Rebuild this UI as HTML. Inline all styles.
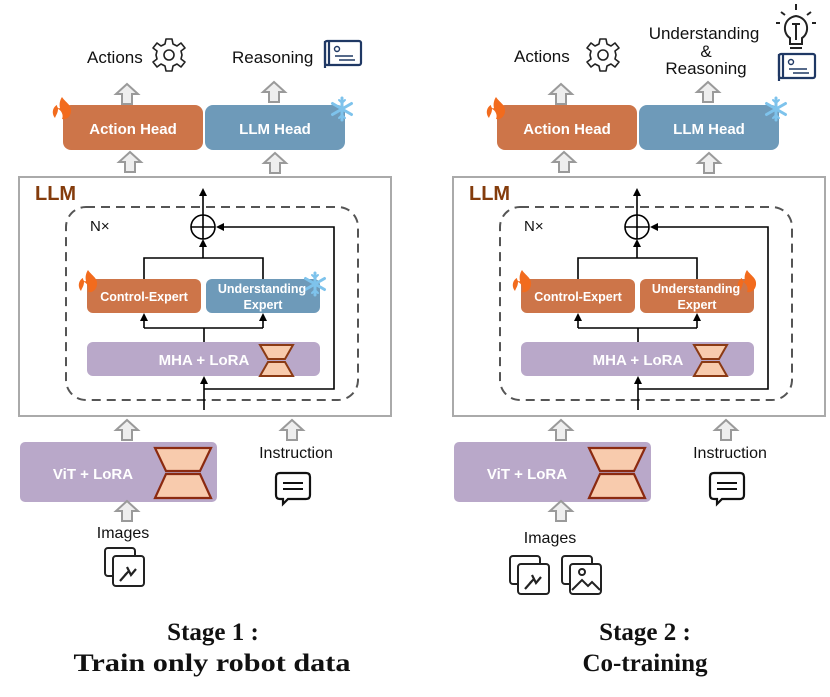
<!DOCTYPE html>
<html><head><meta charset="utf-8"><style>
html,body{margin:0;padding:0;background:#fff;}
svg{display:block;}
.s{font-family:"Liberation Sans",sans-serif;}
.w{font-family:"Liberation Sans",sans-serif;fill:#fff;font-weight:bold;}
.t{font-family:"Liberation Serif",serif;font-weight:bold;fill:#111;}
</style></head><body>
<svg width="830" height="697" viewBox="0 0 830 697" xmlns="http://www.w3.org/2000/svg">
<defs>
<path id="ba" d="M0,0 L11,10 L5,10 L5,20 L-5,20 L-5,10 L-11,10 Z" fill="#eeeeee" stroke="#9a9a9a" stroke-width="2" stroke-linejoin="miter"/>
<path id="fl" d="M8,0 C12,6 18,8 17,15 C16,21 11,23 8,22 C10,18 7,13 4,12 C4,16 2,18 1,21 C-3,16 -1,10 3,8 C3,11 5,12 6,11 C5,7 6,3 8,0 Z" fill="#f26b1d"/>
<g id="sf" stroke="#7ec3ec" stroke-width="3" stroke-linecap="round" fill="none">
<path d="M0,-11 V11 M-9.5,-5.5 L9.5,5.5 M-9.5,5.5 L9.5,-5.5"/>
<path d="M-3,-9 L0,-6 L3,-9 M-3,9 L0,6 L3,9" stroke-width="2"/>
</g>
<g id="gear" fill="none" stroke="#222" stroke-width="1.6">
<path d="M-3,-16 L3,-16 L4,-11 L8,-9 L12,-12 L16,-7 L12,-4 L13,0 L12,4 L16,7 L12,12 L8,9 L4,11 L3,16 L-3,16 L-4,11 L-8,9 L-12,12 L-16,7 L-12,4 L-13,0 L-12,-4 L-16,-7 L-12,-12 L-8,-9 L-4,-11 Z" stroke-linejoin="round"/>
<circle r="5"/>
</g>
<g id="map" fill="none" stroke="#1f3864" stroke-width="2.2">
<rect x="0" y="3" width="36" height="24" rx="2" fill="#fff"/>
<path d="M0,3 V30 M4,3 V28"/>
<circle cx="12" cy="11" r="2.5" stroke-width="1.4"/>
<path d="M10,18 H28 M14,22 H30" stroke-width="1.4"/>
</g>
<g id="img1" fill="#fff" stroke="#222" stroke-width="2">
<rect x="0" y="0" width="30" height="28" rx="3"/>
<rect x="8" y="8" width="31" height="30" rx="3"/>
<path d="M15,33 L22,25 M20,27 L24,23 L26,27 L31,21 M22,19 L24,23" fill="none" stroke-width="2.2"/>
</g>
<g id="img2" fill="#fff" stroke="#222" stroke-width="2">
<rect x="0" y="0" width="30" height="28" rx="3"/>
<rect x="8" y="8" width="31" height="30" rx="3"/>
<circle cx="20" cy="16" r="3" fill="none"/>
<path d="M10,34 L20,24 L26,30 L30,26 L38,34" fill="none"/>
</g>
<g id="chat" fill="#fff" stroke="#111" stroke-width="2.2">
<path d="M5,0 H31 Q35,0 35,4 V22 Q35,26 31,26 H13 L8,31 L8,26 H5 Q1,26 1,22 V4 Q1,0 5,0 Z"/>
<path d="M8,10 H28 M8,16 H28" stroke-width="2"/>
</g>
<g id="hgS" fill="#f8cbad" stroke="#8b3a14" stroke-width="2">
<path d="M0,0 H33 L25,14 H8 Z"/><path d="M8,17 H25 L33,31 H0 Z"/>
</g>
<g id="hgL" fill="#f8cbad" stroke="#8b2a10" stroke-width="2.2">
<path d="M0,0 H56 L45,23 H11 Z"/><path d="M11,26 H45 L56,50 H0 Z"/>
</g>
<marker id="ah" markerWidth="8" markerHeight="8" refX="4" refY="4" orient="auto" markerUnits="userSpaceOnUse">
<path d="M0,0 L8,4 L0,8 Z" fill="#000"/>
</marker>
<g id="core">
<rect x="19" y="177" width="372" height="239" fill="#fff" stroke="#aaa" stroke-width="2"/>
<rect x="66" y="207" width="292" height="193" rx="20" fill="none" stroke="#555" stroke-width="2" stroke-dasharray="9,6"/>
<g stroke="#000" stroke-width="1.6" fill="none">
<line x1="203" y1="239" x2="203" y2="192" marker-end="url(#ah)"/>
<circle cx="203" cy="227" r="12"/>
<line x1="191" y1="227" x2="215" y2="227"/>
<line x1="203" y1="258" x2="203" y2="243" marker-end="url(#ah)"/>
<path d="M144,279 V258 H263 V279"/>
<path d="M144,328 H263"/>
<line x1="144" y1="328" x2="144" y2="317" marker-end="url(#ah)"/>
<line x1="263" y1="328" x2="263" y2="317" marker-end="url(#ah)"/>
<line x1="204" y1="342" x2="204" y2="328"/>
<line x1="204" y1="410" x2="204" y2="380" marker-end="url(#ah)"/>
<path d="M204,389 H334 V227 H220" marker-end="url(#ah)"/>
</g>
<rect x="87" y="342" width="233" height="34" rx="6" fill="#b9a8c9"/>
<use href="#hgS" x="260" y="345"/>
<rect x="20" y="442" width="197" height="60" rx="5" fill="#b9a8c9"/>
<use href="#hgL" x="155" y="448"/>
<use href="#ba" x="127" y="420"/>
<use href="#ba" x="127" y="501"/>
<use href="#ba" x="292" y="420"/>
<use href="#chat" x="275" y="473"/>
<use href="#ba" x="127" y="84"/>
<use href="#ba" x="130" y="152"/>
<use href="#ba" x="274" y="82"/>
<use href="#ba" x="275" y="153"/>
<rect x="63" y="105" width="140" height="45" rx="8" fill="#cd7549"/>
<rect x="205" y="105" width="140" height="45" rx="8" fill="#6e9ab9"/>
<use href="#fl" x="54" y="97"/>
<use href="#sf" x="342" y="109"/>
<use href="#gear" x="169" y="55"/>
</g>
</defs>

<use href="#core"/>
<rect x="87" y="279" width="114" height="34" rx="6" fill="#cd7549"/>
<rect x="206" y="279" width="114" height="34" rx="6" fill="#6e9ab9"/>
<use href="#fl" x="80" y="270"/>
<use href="#sf" x="315" y="284"/>
<use href="#map" x="325" y="38"/>
<use href="#img1" x="105" y="548"/>
<text class="s" x="87" y="63" font-size="17" fill="#111">Actions</text>
<text class="s" x="232" y="63" font-size="17" fill="#111">Reasoning</text>
<text class="w" x="133" y="134" font-size="15" text-anchor="middle">Action  Head</text>
<text class="w" x="275" y="134" font-size="15" text-anchor="middle">LLM Head</text>
<text x="35" y="200" font-family="Liberation Sans,sans-serif" font-weight="bold" font-size="20" fill="#843c0c">LLM</text>
<text class="s" x="90" y="231" font-size="15" fill="#111">N×</text>
<text class="w" x="144" y="301" font-size="12.5" text-anchor="middle">Control-Expert</text>
<text class="w" x="262" y="293" font-size="12.5" text-anchor="middle">Understanding</text>
<text class="w" x="263" y="309" font-size="12.5" text-anchor="middle">Expert</text>
<text class="w" x="204" y="365" font-size="15" text-anchor="middle">MHA + LoRA</text>
<text class="w" x="93" y="479" font-size="15" text-anchor="middle">ViT  +  LoRA</text>
<text class="s" x="296" y="458" font-size="16" fill="#111" text-anchor="middle">Instruction</text>
<text class="s" x="123" y="538" font-size="16" fill="#111" text-anchor="middle">Images</text>
<text class="t" x="213" y="640" font-size="25" text-anchor="middle">Stage 1 :</text>
<text class="t" x="212" y="671" font-size="25" text-anchor="middle" textLength="277" lengthAdjust="spacingAndGlyphs">Train only robot data</text>

<g transform="translate(434,0)">
<use href="#core"/>
<rect x="87" y="279" width="114" height="34" rx="6" fill="#cd7549"/>
<rect x="206" y="279" width="114" height="34" rx="6" fill="#cd7549"/>
<use href="#fl" x="80" y="270"/>
<use href="#fl" x="305" y="270"/>
<use href="#map" x="345" y="51"/>
<g fill="none" stroke="#222" stroke-width="2">
<path d="M356,38 C348,33 349,18 362,16 C375,18 376,33 368,38 V44 H356 Z"/>
<path d="M356,48 H368 M358,24 H366 M362,24 V40 M362,4 V10 M347,12 L351,15 M377,12 L373,15 M342,23 H346 M378,23 H382"/>
</g>
<use href="#img1" x="76" y="556"/>
<use href="#img2" x="128" y="556"/>
<text class="s" x="80" y="62" font-size="17" fill="#111">Actions</text>
<text class="s" x="270" y="39" font-size="17" fill="#111" text-anchor="middle">Understanding</text>
<text class="s" x="272" y="57" font-size="17" fill="#111" text-anchor="middle">&amp;</text>
<text class="s" x="272" y="74" font-size="17" fill="#111" text-anchor="middle">Reasoning</text>
<text class="w" x="133" y="134" font-size="15" text-anchor="middle">Action  Head</text>
<text class="w" x="275" y="134" font-size="15" text-anchor="middle">LLM Head</text>
<text x="35" y="200" font-family="Liberation Sans,sans-serif" font-weight="bold" font-size="20" fill="#843c0c">LLM</text>
<text class="s" x="90" y="231" font-size="15" fill="#111">N×</text>
<text class="w" x="144" y="301" font-size="12.5" text-anchor="middle">Control-Expert</text>
<text class="w" x="262" y="293" font-size="12.5" text-anchor="middle">Understanding</text>
<text class="w" x="263" y="309" font-size="12.5" text-anchor="middle">Expert</text>
<text class="w" x="204" y="365" font-size="15" text-anchor="middle">MHA + LoRA</text>
<text class="w" x="93" y="479" font-size="15" text-anchor="middle">ViT  +  LoRA</text>
<text class="s" x="296" y="458" font-size="16" fill="#111" text-anchor="middle">Instruction</text>
<text class="s" x="116" y="543" font-size="16" fill="#111" text-anchor="middle">Images</text>
<text class="t" x="211" y="640" font-size="25" text-anchor="middle">Stage 2 :</text>
<text class="t" x="211" y="671" font-size="25" text-anchor="middle">Co-training</text>
</g>
</svg>
</body></html>
